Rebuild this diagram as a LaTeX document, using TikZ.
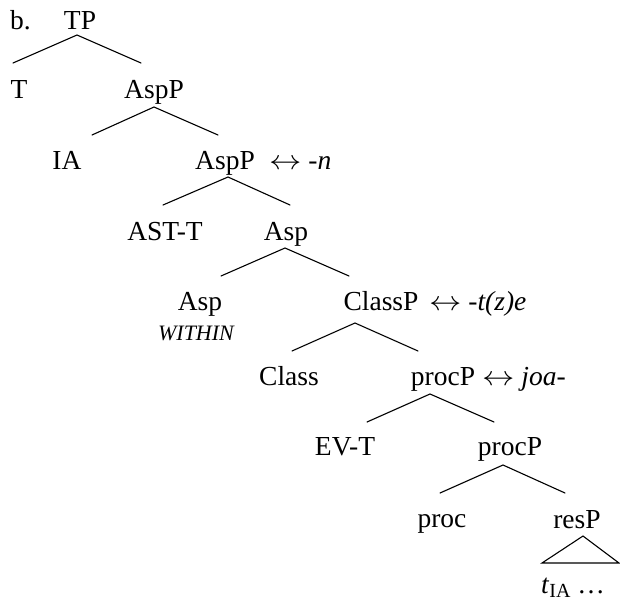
\documentclass[tikz,border=0pt]{standalone}
\usepackage{fontspec}
\setmainfont{Liberation Serif}
\newcommand{\bidarrow}{\scalebox{1.3}[1.1]{$\leftrightarrow$}}
\begin{document}
\begin{tikzpicture}[x=1pt,y=-1pt,
  lbl/.style={anchor=base,inner sep=0pt,font=\fontsize{27.5}{33}\selectfont},
  lblw/.style={lbl,anchor=base west},
  feat/.style={anchor=base,inner sep=0pt,font=\fontsize{22}{26}\selectfont\itshape},
  br/.style={line width=1.1pt,line cap=round}]
\useasboundingbox (0,0) rectangle (620,605);
% labels
\node[lblw] (b) at (10,29) {b.};
\node[lbl] (tp) at (80,29) {TP};
\node[lbl] (t) at (19,98) {T};
\node[lbl] (aspP1) at (154,98) {AspP};
\node[lbl] (ia) at (67,169) {IA};
\node[lbl] (aspP2) at (225,169) {AspP};
\node[lblw] (aspP2m) at (269,169) {\bidarrow{} \textit{-n}};
\node[lbl] (astt) at (165,240) {AST-T};
\node[lbl] (asp1) at (286,240) {Asp};
\node[lbl] (asp2) at (200,310) {Asp};
\node[feat] (within) at (196,340) {WITHIN};
\node[lbl] (classP) at (381,310) {ClassP};
\node[lblw] (classPm) at (429,310) {\bidarrow{} \textit{-t(z)e}};
\node[lbl] (class) at (289,385) {Class};
\node[lbl] (procP1) at (443,385) {procP};
\node[lblw] (procP1m) at (482,385) {\bidarrow{} \textit{joa-}};
\node[lbl] (evt) at (345,455) {EV-T};
\node[lbl] (procP2) at (510,455) {procP};
\node[lbl] (proc) at (442,527) {proc};
\node[lbl] (resP) at (577,528) {resP};
\node[lblw] (tia) at (541,593) {\textit{t}\raisebox{-4pt}{\fontsize{20}{24}\selectfont IA} …};
% branch points
\coordinate (tpA) at (77,35);   \coordinate (tpL) at (13,63);   \coordinate (tpR) at (141,63);
\coordinate (a1A) at (154,107); \coordinate (a1L) at (92,135);  \coordinate (a1R) at (218,135);
\coordinate (a2A) at (228,177); \coordinate (a2L) at (163,205); \coordinate (a2R) at (290,205);
\coordinate (asA) at (285,248); \coordinate (asL) at (221,276); \coordinate (asR) at (349,276);
\coordinate (clA) at (355,323); \coordinate (clL) at (292,351); \coordinate (clR) at (418,351);
\coordinate (p1A) at (430,394); \coordinate (p1L) at (367,422); \coordinate (p1R) at (494,422);
\coordinate (p2A) at (503,465); \coordinate (p2L) at (440,493); \coordinate (p2R) at (565,493);
\coordinate (rsA) at (583,536); \coordinate (rsL) at (542,563); \coordinate (rsR) at (619,563);
% branches
\draw[br] (tpL) -- (tpA) -- (tpR);
\draw[br] (a1L) -- (a1A) -- (a1R);
\draw[br] (a2L) -- (a2A) -- (a2R);
\draw[br] (asL) -- (asA) -- (asR);
\draw[br] (clL) -- (clA) -- (clR);
\draw[br] (p1L) -- (p1A) -- (p1R);
\draw[br] (p2L) -- (p2A) -- (p2R);
\draw[br,line join=miter] (rsL) -- (rsA) -- (rsR) -- cycle;
\end{tikzpicture}
\end{document}
